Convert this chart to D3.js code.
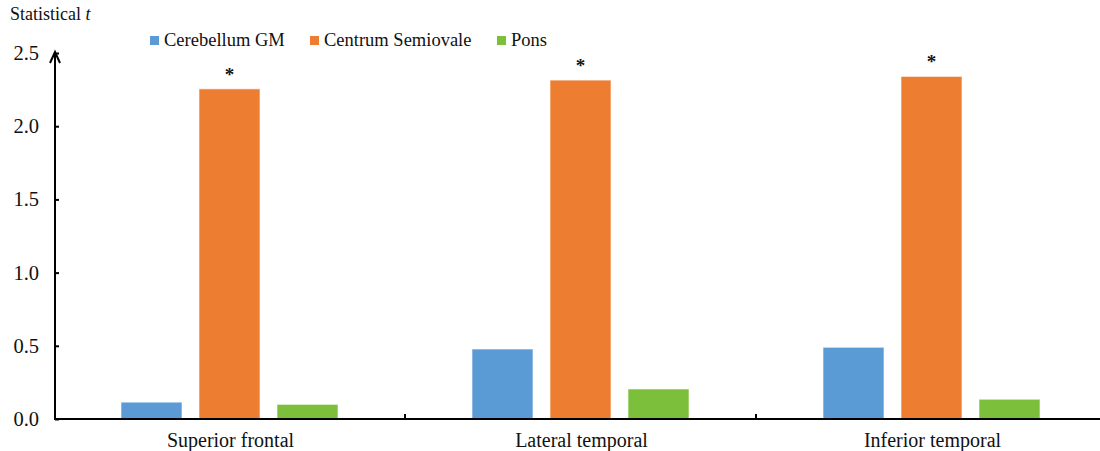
<!DOCTYPE html>
<html>
<head>
<meta charset="utf-8">
<script src="https://cdn.jsdelivr.net/npm/d3@7"></script>
<style>
  body { margin: 0; background: #fff; }
  text { font-family: "Liberation Serif", "Times New Roman", serif; fill: #111; }
</style>
</head>
<body>
<script>
// Regions on the x axis
var regions = ["Superior frontal", "Lateral temporal", "Inferior temporal"];
// Series (legend order)
var seriesNames = ["Cerebellum GM", "Centrum Semiovale", "Pons"];
var seriesColors = ["#5B9BD5", "#ED7D31", "#7BBF3A"];
// Statistical t per region, one array per series
var cerebellumGM = [0.115, 0.478, 0.49];
var centrumSemiovale = [2.255, 2.315, 2.34];
var pons = [0.10, 0.205, 0.135];
// Significant marks (asterisk above the centrum semiovale bar)
var significant = [true, true, true];
// Y tick labels
var yTicks = [0, 0.5, 1.0, 1.5, 2.0, 2.5];

var w = 1100, h = 451;
var plotLeft = 55, plotRight = 1108, plotTop = 53, plotBottom = 419;

var svg = d3.select("body").append("svg")
    .attr("width", w)
    .attr("height", h);

var yScale = d3.scaleLinear()
    .domain([0, 2.5])
    .range([plotBottom, plotTop]);

var xScale = d3.scaleBand()
    .domain(regions)
    .range([plotLeft, plotRight])
    .padding(0);

// bars sit in the middle of each region band
var inner = d3.scaleBand()
    .domain(seriesNames)
    .range([66, 66 + 217])
    .paddingInner(0.218)
    .paddingOuter(0);

var allValues = [cerebellumGM, centrumSemiovale, pons];

var rows = [];
regions.forEach(function(r, i) {
  seriesNames.forEach(function(s, j) {
    rows.push({region: r, series: s, value: allValues[j][i], color: seriesColors[j]});
  });
});

// Bars
svg.selectAll("rect.bar")
    .data(rows)
    .enter().append("rect")
    .attr("class", "bar")
    .attr("x", function(d) { return xScale(d.region) + inner(d.series); })
    .attr("y", function(d) { return yScale(d.value); })
    .attr("width", inner.bandwidth())
    .attr("height", function(d) { return plotBottom - yScale(d.value); })
    .style("fill", function(d) { return d.color; })
    .style("stroke", "#ffffff")
    .style("stroke-opacity", 0.6)
    .style("stroke-width", 1);

// Asterisks
svg.selectAll("text.star")
    .data(regions.filter(function(r, i) { return significant[i]; }))
    .enter().append("text")
    .attr("class", "star")
    .attr("x", function(d) { return xScale(d) + inner("Centrum Semiovale") + inner.bandwidth() / 2; })
    .attr("y", function(d) { return yScale(centrumSemiovale[regions.indexOf(d)]) - 8; })
    .attr("text-anchor", "middle")
    .style("font-size", "19px")
    .style("font-weight", "bold")
    .text("*");

// Y axis
var yAxis = svg.append("g")
    .attr("transform", "translate(" + plotLeft + ",0)")
    .call(d3.axisRight(yScale).tickValues(yTicks).tickSize(4).tickFormat(d3.format(".1f")));
yAxis.select(".domain").remove();
yAxis.selectAll(".tick line").attr("stroke", "#000").attr("stroke-width", 2);
yAxis.selectAll(".tick text")
    .attr("x", -16)
    .attr("text-anchor", "end")
    .style("font-size", "20.5px");

svg.append("line")
    .attr("x1", plotLeft).attr("x2", plotLeft)
    .attr("y1", plotBottom + 1).attr("y2", plotTop - 1)
    .attr("stroke", "#000").attr("stroke-width", 2);
// arrow head
svg.append("path")
    .attr("d", "M" + (plotLeft - 5) + "," + (plotTop + 10) + "L" + plotLeft + "," + (plotTop - 1) + "L" + (plotLeft + 5) + "," + (plotTop + 10))
    .attr("fill", "none").attr("stroke", "#000").attr("stroke-width", 2);

// X axis
var xAxis = svg.append("g")
    .attr("transform", "translate(0," + plotBottom + ")")
    .call(d3.axisBottom(xScale).tickSize(0).tickPadding(14));
xAxis.select(".domain").remove();
xAxis.selectAll(".tick text").style("font-size", "20px");

svg.append("line")
    .attr("x1", plotLeft - 1).attr("x2", w)
    .attr("y1", plotBottom).attr("y2", plotBottom)
    .attr("stroke", "#000").attr("stroke-width", 2);

// region separators
svg.selectAll("line.sep")
    .data(regions.slice(1))
    .enter().append("line")
    .attr("class", "sep")
    .attr("x1", function(d) { return xScale(d) - 1; })
    .attr("x2", function(d) { return xScale(d) - 1; })
    .attr("y1", plotBottom).attr("y2", plotBottom - 5)
    .attr("stroke", "#000").attr("stroke-width", 2);

// Y label
svg.append("text")
    .attr("x", 10)
    .attr("y", 20)
    .style("font-size", "18px")
    .html("Statistical <tspan font-style='italic'>t</tspan>");

// Legend
var legendX = [150, 310, 497];
var legend = svg.selectAll(".legend")
    .data(seriesNames)
    .enter().append("g")
    .attr("class", "legend")
    .attr("transform", function(d, i) { return "translate(" + legendX[i] + ",36)"; });

legend.append("rect")
    .attr("width", 9)
    .attr("height", 9)
    .style("fill", function(d, i) { return seriesColors[i]; });

legend.append("text")
    .attr("x", 14)
    .attr("y", 10)
    .style("font-size", "18.5px")
    .text(function(d) { return d; });
</script>
</body>
</html>
